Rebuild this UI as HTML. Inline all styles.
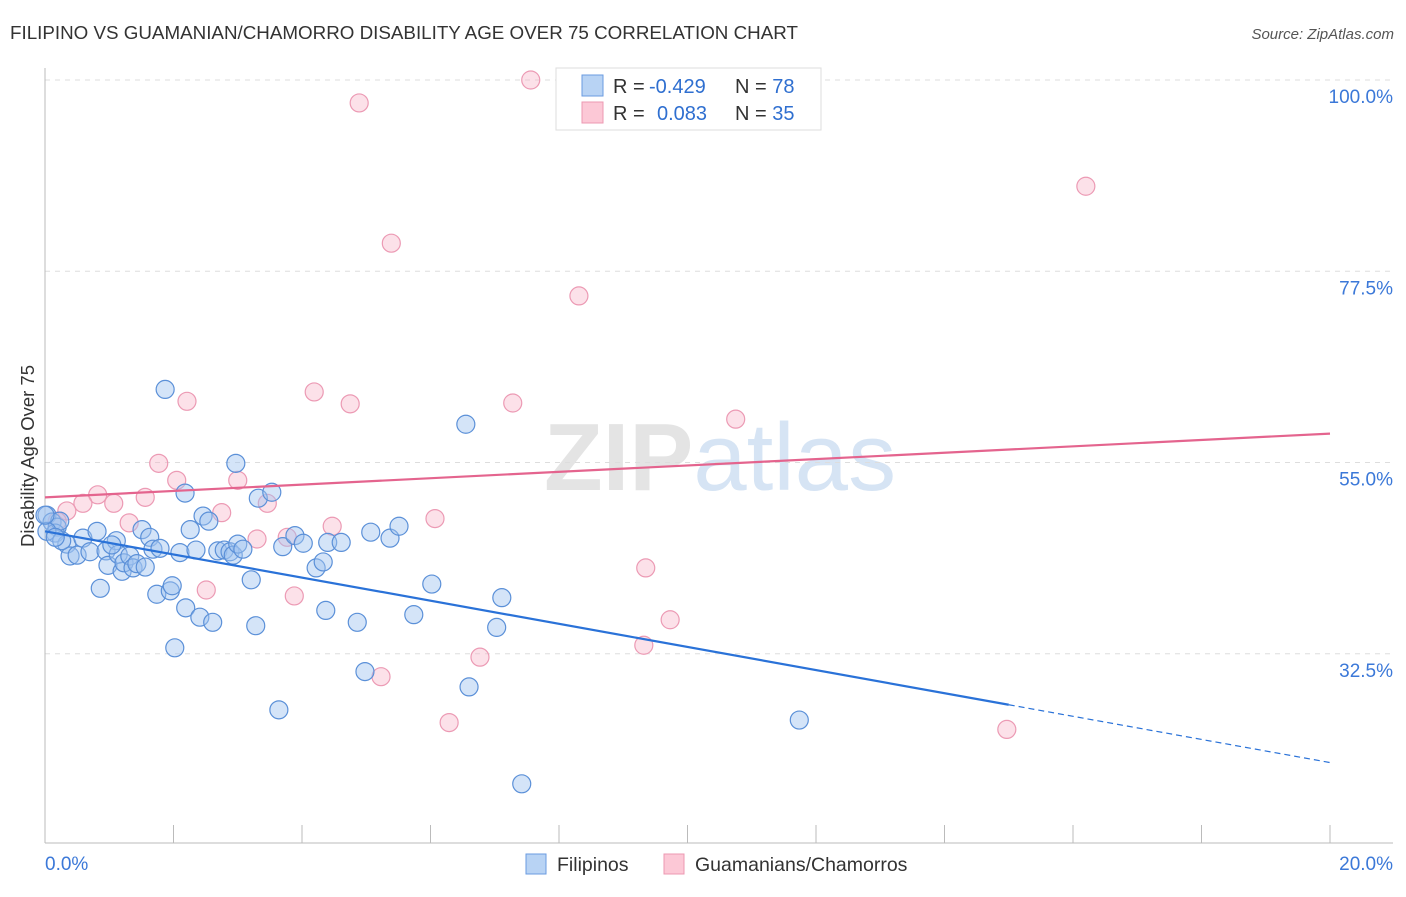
<!DOCTYPE html>
<html><head><meta charset="utf-8"><style>
body{margin:0;background:#fff;font-family:"Liberation Sans",sans-serif;}
svg text{font-family:"Liberation Sans",sans-serif;}
</style></head><body>
<svg id="chart" width="1406" height="892" viewBox="0 0 1406 892" xmlns="http://www.w3.org/2000/svg">
<text x="10" y="39" font-size="18.8" fill="#333">FILIPINO VS GUAMANIAN/CHAMORRO DISABILITY AGE OVER 75 CORRELATION CHART</text>
<text x="1394" y="39" font-size="15" fill="#555" text-anchor="end" font-style="italic">Source: ZipAtlas.com</text>
<text x="720" y="490" font-size="96" text-anchor="middle" fill="#e4e4e4" font-family="Liberation Serif" font-weight="bold">ZIP<tspan fill="#d6e4f4" font-family="Liberation Sans" font-weight="normal">atlas</tspan></text>
<g id="grid"></g>
<g id="marks"></g>
<text transform="translate(34,456) rotate(-90)" font-size="18.5" fill="#333" text-anchor="middle">Disability Age Over 75</text>
<g>
<rect x="556" y="68" width="265" height="62" fill="#fff" stroke="#ddd"/>
<rect x="582" y="75" width="21" height="21" fill="#b8d3f4" stroke="#6a9be0"/>
<rect x="582" y="102" width="21" height="21" fill="#fcc8d6" stroke="#ec98b2"/>
<text x="613" y="93" font-size="20" fill="#333">R = <tspan x="649" fill="#2f6fd0">-0.429</tspan><tspan x="735">N = </tspan><tspan fill="#2f6fd0">78</tspan></text>
<text x="613" y="120" font-size="20" fill="#333">R = <tspan x="657" fill="#2f6fd0">0.083</tspan><tspan x="735">N = </tspan><tspan fill="#2f6fd0">35</tspan></text>
</g>
<g>
<rect x="526" y="854" width="20" height="20" fill="#b8d3f4" stroke="#6a9be0"/>
<text x="557" y="871" font-size="19.5" fill="#333">Filipinos</text>
<rect x="664" y="854" width="20" height="20" fill="#fcc8d6" stroke="#ec98b2"/>
<text x="695" y="871" font-size="19.5" fill="#333">Guamanians/Chamorros</text>
</g>
</svg>
<script>
const yTicks=[100,77.5,55,32.5];
const yTickLabels=["100.0%","77.5%","55.0%","32.5%"];
const xTickCount=10;
const xAxisLabels=["0.0%","20.0%"];
const filipinoX=[0.03,0.11,0.19,0.16,0.23,0.34,0.39,0.50,0.59,0.70,0.81,0.86,0.95,0.98,1.11,1.14,1.20,1.23,1.32,1.37,1.43,1.51,1.56,1.63,1.68,1.74,1.79,1.87,1.95,1.98,2.02,2.10,2.18,2.19,2.26,2.35,2.41,2.46,2.55,2.61,2.69,2.79,2.88,2.93,2.97,3.00,3.08,3.21,3.28,3.32,3.53,3.64,3.70,3.89,4.02,4.22,4.33,4.37,4.40,4.61,4.86,4.98,5.07,5.37,5.51,5.74,6.02,6.55,6.60,7.03,7.11,7.42,11.74,0.03,0.26,0.0,1.04,0.16];
const filipinoY=[48.8,48.0,47.4,46.7,48.1,45.4,44.0,44.1,46.1,44.5,46.9,40.2,44.6,42.9,45.8,44.2,42.2,43.2,44.0,42.6,43.1,47.1,42.7,46.2,44.8,39.5,44.9,63.6,39.9,40.5,33.2,44.4,51.4,37.9,47.1,44.7,36.8,48.7,48.1,36.2,44.6,44.7,44.5,44.1,54.9,45.4,44.8,41.2,35.8,50.8,51.5,25.9,45.1,46.4,45.5,42.6,43.3,37.6,45.6,45.6,36.2,30.4,46.8,46.1,47.5,37.1,40.7,59.5,28.6,35.6,39.1,17.2,24.7,46.9,45.8,48.8,45.3,46.2];
const guamX=[7.56,4.89,5.39,8.31,16.20,4.19,4.75,7.28,10.75,2.21,1.77,2.05,3.00,0.82,1.56,0.59,1.07,3.46,2.75,1.31,4.47,6.07,0.34,0.19,3.30,3.77,2.51,3.88,9.35,9.73,9.32,6.77,5.23,6.29,14.97];
const guamY=[100.0,97.3,80.8,74.6,87.5,63.3,61.9,62.0,60.1,62.2,54.9,52.9,52.9,51.2,50.9,50.2,50.2,50.2,49.1,47.9,47.5,48.4,49.3,48.1,46.0,46.2,40.0,39.3,42.6,36.5,33.5,32.1,29.8,24.4,23.6];
const blueLine=[46.9,26.5,19.7]; // trend values at x=0, 15, 20
const pinkLine=[50.9,58.4];       // trend values at x=0, 20

const NS="http://www.w3.org/2000/svg";
const X0=45,X1=1330,Y100=80,PX_PER=8.5;
const xs=v=>X0+(v/20)*(X1-X0);
const ys=v=>Y100+(100-v)*PX_PER;
function mk(tag,attrs,parent){const e=document.createElementNS(NS,tag);for(const k in attrs)e.setAttribute(k,attrs[k]);parent.appendChild(e);return e;}
const grid=document.getElementById('grid'),marks=document.getElementById('marks');
yTicks.forEach((t,i)=>{
  const l=mk('line',{x1:X0,x2:1393,y1:ys(t),y2:ys(t),stroke:'#ddd','stroke-dasharray':'5,5'},grid);
  
  
  const tx=mk('text',{x:1393,y:ys(t)+23,'font-size':19,fill:'#3b78d8','text-anchor':'end'},grid);
  tx.textContent=yTickLabels[i];
  
  
});
const ax=mk('line',{x1:X0,x2:X0,y1:68,y2:843,stroke:'#bbb'},grid);


const bx=mk('line',{x1:X0,x2:1393,y1:843,y2:843,stroke:'#bbb'},grid);


for(let i=0;i<=xTickCount;i++){
  const x=xs(i*20/xTickCount);
  const t=mk('line',{x1:x,x2:x,y1:825,y2:843,stroke:'#bbb'},grid);
  
  
}
[[0,'start',45],[20,'end',1393]].forEach((d,i)=>{
  const t=mk('text',{x:d[2],y:870,'font-size':19,fill:'#3b78d8','text-anchor':d[1]},grid);
  t.textContent=xAxisLabels[i];
  
  
});
guamX.forEach((v,i)=>{
  const c=mk('circle',{cx:xs(v),cy:ys(guamY[i]),r:9,fill:'rgba(248,180,200,0.4)',stroke:'#ec9ab4','stroke-width':1.2},marks);
  
  
});
filipinoX.forEach((v,i)=>{
  const c=mk('circle',{cx:xs(v),cy:ys(filipinoY[i]),r:9,fill:'rgba(160,196,240,0.45)',stroke:'#5b90d8','stroke-width':1.2},marks);
  
  
});
const b1=mk('line',{x1:xs(0),y1:ys(blueLine[0]),x2:xs(15),y2:ys(blueLine[1]),stroke:'#2a72d8','stroke-width':2.2},marks);


const b2=mk('line',{x1:xs(15),y1:ys(blueLine[1]),x2:xs(20),y2:ys(blueLine[2]),stroke:'#2a72d8','stroke-width':1.2,'stroke-dasharray':'6,4'},marks);


const p1=mk('line',{x1:xs(0),y1:ys(pinkLine[0]),x2:xs(20),y2:ys(pinkLine[1]),stroke:'#e4648e','stroke-width':2.2},marks);


</script>
</body></html>
